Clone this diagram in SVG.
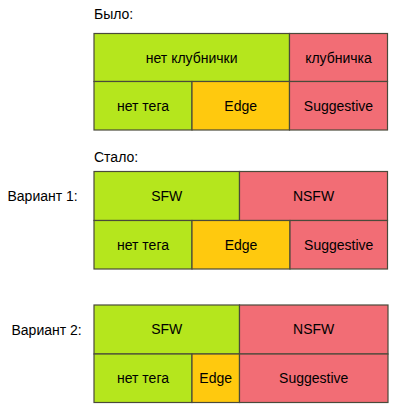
<svg xmlns="http://www.w3.org/2000/svg" width="400" height="415" viewBox="0 0 400 415">
<style>
text{font-family:"Liberation Sans",Arial,sans-serif;font-size:14px;fill:#000}
.c{text-anchor:middle}
rect{stroke:#4a4a3a;stroke-width:1.2}
.g{fill:#b5e61d}.o{fill:#ffc90e}.p{fill:#f26d75}
</style>
<rect width="400" height="415" fill="#fff" style="stroke:none"/>
<text x="94" y="19">Было:</text>
<g id="before">
<g id="b-no-straw"><rect class="g" x="94" y="33.5" width="195.5" height="48"/><text class="c" x="191.7" y="62.5">нет клубнички</text></g>
<g id="b-straw"><rect class="p" x="289.5" y="33.5" width="98" height="48"/><text class="c" x="338.5" y="62.5">клубничка</text></g>
<g id="b-notag"><rect class="g" x="94" y="81.5" width="98" height="48.5"/><text class="c" x="143" y="110.5">нет тега</text></g>
<g id="b-edge"><rect class="o" x="192" y="81.5" width="97.5" height="48.5"/><text class="c" x="240.7" y="110.5">Edge</text></g>
<g id="b-sugg"><rect class="p" x="289.5" y="81.5" width="98" height="48.5"/><text class="c" x="338.5" y="110.5">Suggestive</text></g>
</g>
<text x="94" y="162">Стало:</text>
<text x="7.5" y="200.5">Вариант 1:</text>
<g id="v1">
<g id="v1-sfw"><rect class="g" x="94" y="171.5" width="145.5" height="49"/><text class="c" x="166.7" y="200.5">SFW</text></g>
<g id="v1-nsfw"><rect class="p" x="239.5" y="171.5" width="148" height="49"/><text class="c" x="313.5" y="200.5">NSFW</text></g>
<g id="v1-notag"><rect class="g" x="94" y="220.5" width="98" height="48.5"/><text class="c" x="143" y="249.5">нет тега</text></g>
<g id="v1-edge"><rect class="o" x="192" y="220.5" width="98" height="48.5"/><text class="c" x="241" y="249.5">Edge</text></g>
<g id="v1-sugg"><rect class="p" x="290" y="220.5" width="97.5" height="48.5"/><text class="c" x="338.7" y="249.5">Suggestive</text></g>
</g>
<text x="11.5" y="334.5">Вариант 2:</text>
<g id="v2">
<g id="v2-sfw"><rect class="g" x="94" y="305" width="145.5" height="49"/><text class="c" x="166.7" y="334">SFW</text></g>
<g id="v2-nsfw"><rect class="p" x="239.5" y="305" width="148.5" height="49"/><text class="c" x="313.7" y="334">NSFW</text></g>
<g id="v2-notag"><rect class="g" x="94" y="354" width="98" height="48.5"/><text class="c" x="143" y="383">нет тега</text></g>
<g id="v2-edge"><rect class="o" x="192" y="354" width="47.5" height="48.5"/><text class="c" x="215.7" y="383">Edge</text></g>
<g id="v2-sugg"><rect class="p" x="239.5" y="354" width="148.5" height="48.5"/><text class="c" x="313.7" y="383">Suggestive</text></g>
</g>
<g id="connectors"/>
</svg>
